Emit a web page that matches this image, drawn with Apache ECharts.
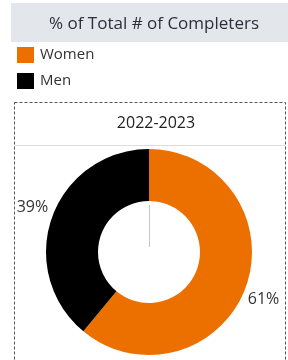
<!DOCTYPE html>
<html><head><meta charset="utf-8">
<script src="https://cdn.jsdelivr.net/npm/echarts@6/dist/echarts.min.js"></script>
<style>html,body{margin:0;padding:0;background:#fff}#c{width:288px;height:360px}</style>
</head><body><div id="c"></div>
<script>
const categories = ['Women', 'Men'];
const shares = [61, 39];
const colors = ['#EB7000', '#000000'];
const mainTitle = '% of Total # of Completers';
const panelTitle = '2022-2023';

const chart = echarts.init(document.getElementById('c'), null, {renderer: 'canvas'});
const font = '"Open Sans", sans-serif';
chart.setOption({
  animation: false,
  textStyle: {fontFamily: font},
  title: [
    {text: mainTitle, left: 149, top: 11, textAlign: 'center',
     textStyle: {fontFamily: font, fontSize: 17, fontWeight: 'normal', color: '#2b2f3a'}},
    {text: panelTitle, left: 151, top: 110, textAlign: 'center',
     textStyle: {fontFamily: font, fontSize: 16, fontWeight: 'normal', color: '#222'}}
  ],
  legend: {
    orient: 'vertical', left: 17, top: 47, icon: 'rect', padding: 0,
    itemWidth: 17, itemHeight: 16, itemGap: 10,
    data: categories,
    textStyle: {fontFamily: font, fontSize: 15, color: '#333', padding: [0, 0, 0, 1]}
  },
  graphic: [
    {type: 'rect', shape: {x: 11, y: 3, width: 277, height: 39}, style: {fill: '#e3e6eb'}, z: -10},
    {type: 'rect', shape: {x: 14.5, y: 102.5, width: 271, height: 300},
     style: {fill: 'none', stroke: '#555', lineWidth: 1, lineDash: [3, 2]}, z: -5},
    {type: 'line', shape: {x1: 15, y1: 145.5, x2: 285, y2: 145.5}, style: {stroke: '#ddd', lineWidth: 1}, z: -5},
    {type: 'line', shape: {x1: 149.5, y1: 205, x2: 149.5, y2: 247}, style: {stroke: '#c8c8c8', lineWidth: 1}, z: 10}
  ],
  series: [{
    type: 'pie',
    center: [149, 252],
    radius: [51, 103],
    startAngle: 90,
    clockwise: true,
    avoidLabelOverlap: false,
    label: {
      show: true, position: 'outside', formatter: '{c}%',
      fontFamily: font, fontSize: 16, color: '#333', distanceToLabelLine: 0
    },
    labelLine: {show: false, length: 2, length2: 0},
    labelLayout: function (p) { return p.dataIndex === 0 ? {dy: 12} : {dy: -9, dx: -2}; },
    data: categories.map((c, i) => ({name: c, value: shares[i], itemStyle: {color: colors[i]}}))
  }]
});
</script></body></html>
